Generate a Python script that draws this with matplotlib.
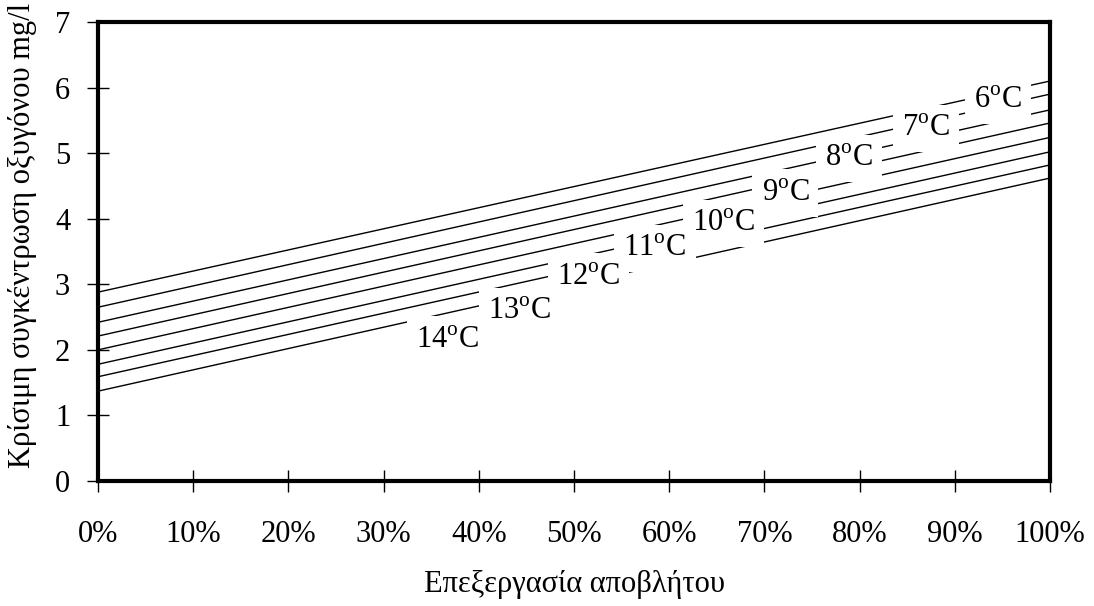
import matplotlib.pyplot as plt
from matplotlib.ticker import PercentFormatter

plt.rcParams['font.family'] = ['Liberation Serif', 'DejaVu Serif']
plt.rcParams['mathtext.fontset'] = 'custom'
plt.rcParams['mathtext.rm'] = 'Liberation Serif'

# treatment fraction (0..1) at the two ends of each line
x_ends = [0.0, 1.0]
# critical oxygen concentration mg/l at 0% and 100%
line_start = [2.88, 2.65, 2.42, 2.21, 2.00, 1.78, 1.59, 1.37]
line_end = [6.10, 5.90, 5.66, 5.46, 5.24, 5.02, 4.82, 4.62]

# temperature labels and where they sit
temps = [6, 7, 8, 9, 10, 11, 12, 13, 14]
label_x = [0.945, 0.870, 0.789, 0.722, 0.657, 0.585, 0.515, 0.443, 0.367]
label_y = [5.81, 5.38, 4.92, 4.39, 3.93, 3.55, 3.11, 2.58, 2.15]

fs = 22

fig = plt.figure(figsize=(10.94, 6.06), dpi=100)
ax = fig.add_axes([0.0896, 0.2063, 0.8702, 0.7574])

for y0, y1 in zip(line_start, line_end):
    ax.plot(x_ends, [y0, y1], color='black', lw=1.0, zorder=2)

for t, lx, ly in zip(temps, label_x, label_y):
    ax.text(lx, ly, r'%d$^{\rm o}$C' % t, fontsize=fs, ha='center', va='center',
            zorder=3, bbox=dict(boxstyle='square,pad=0.3', facecolor='white', edgecolor='none'))

ax.set_xlim(0, 1)
ax.set_ylim(0, 7)
ax.set_xticks([i / 10 for i in range(11)])
ax.set_yticks(range(8))
ax.xaxis.set_major_formatter(PercentFormatter(1.0, decimals=0))

for s in ax.spines.values():
    s.set_linewidth(3)
ax.tick_params(axis='both', direction='inout', length=16, width=1, labelsize=fs)
ax.tick_params(axis='x', pad=20)
ax.tick_params(axis='y', pad=12)

ax.set_xlabel('Επεξεργασία αποβλήτου', fontsize=fs, labelpad=15)
ax.set_ylabel('Κρίσιμη συγκέντρωση οξυγόνου mg/l', fontsize=fs)
ax.yaxis.set_label_coords(-0.064, 0.535)

fig.savefig('out.png', dpi=100)
